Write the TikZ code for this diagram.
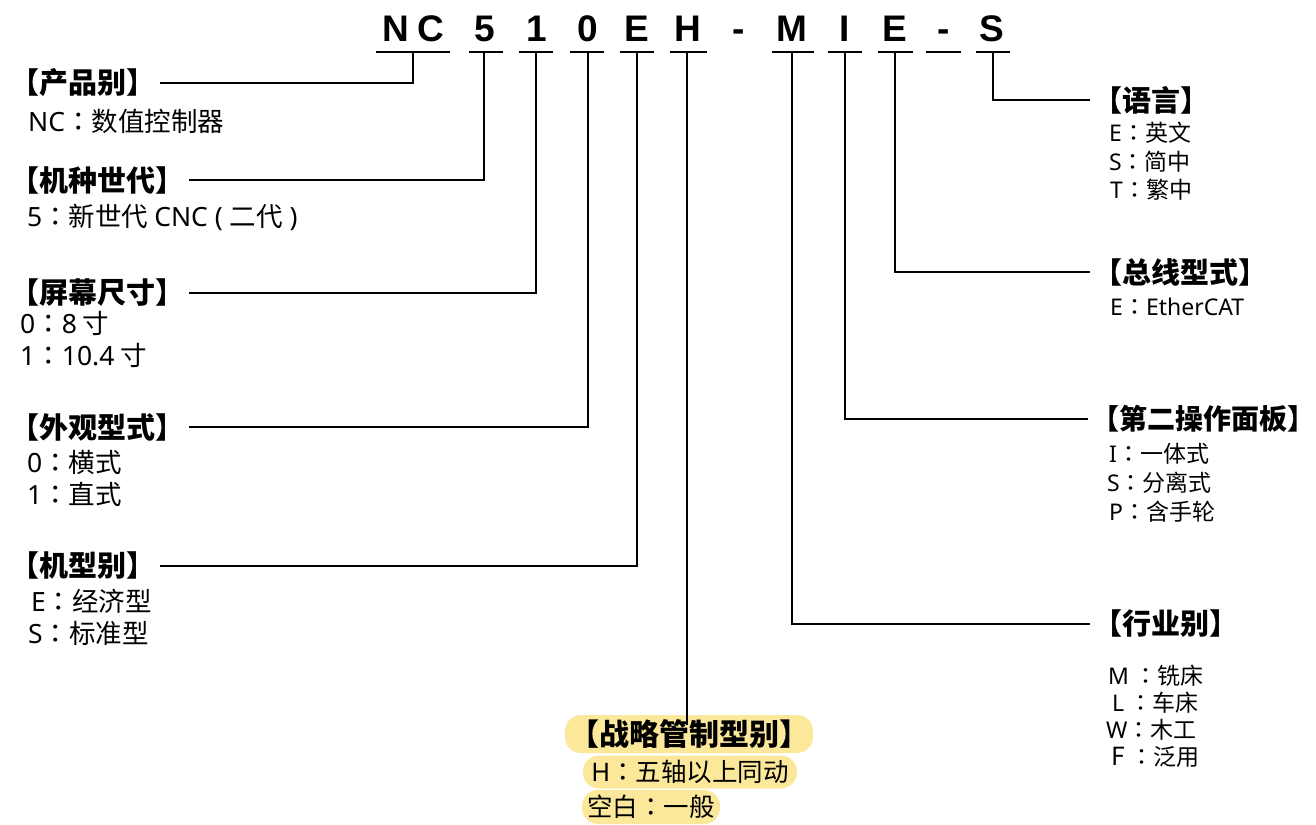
\documentclass[tikz,border=0pt]{standalone}
\usepackage{fontspec}
\setmainfont{Noto Sans CJK SC}
\newfontfamily\tcfont{Noto Sans CJK TC}
\newfontfamily\latfont{Noto Sans}
\newfontfamily\codefont{Liberation Sans}
\newcommand\colonTC{{\tcfont ：}}
\newcommand\la[1]{{\latfont #1}}
\definecolor{hl}{HTML}{FCE89A}
\begin{document}
\begin{tikzpicture}[x=1pt,y=-1pt,
  code/.style={font=\codefont\bfseries\fontsize{37}{40}\selectfont, inner sep=0, anchor=base},
  headL/.style={font=\bfseries\fontsize{29}{30}\selectfont, inner sep=0, outer sep=5pt, anchor=west},
  headR/.style={font=\bfseries\fontsize{29}{30}\selectfont, inner sep=0, outer sep=3pt, anchor=west},
  bodyL/.style={font=\fontsize{26.5}{28}\selectfont, inner sep=0, anchor=west},
  bodyR/.style={font=\fontsize{23}{26}\selectfont, inner sep=0, anchor=west},
  hlbox/.style={fill=hl, rounded corners=16pt, inner sep=0, anchor=center},
  uline/.style={line width=2.2pt},
  link/.style={line width=2.2pt}]
\useasboundingbox (0,0) rectangle (1316,824);

% code letters
\node[code] (cN)  at (396,42) {N};
\node[code] (cC)  at (431,42) {C};
\node[code] (c5)  at (485,42) {5};
\node[code] (c1)  at (537,42) {1};
\node[code] (c0)  at (588,42) {0};
\node[code] (cE)  at (637,42) {E};
\node[code] (cH)  at (688,42) {H};
\node[code] (cd1) at (739,42) {-};
\node[code] (cM)  at (792,42) {M};
\node[code] (cI)  at (845,42) {I};
\node[code] (cE2) at (895,42) {E};
\node[code] (cd2) at (944,42) {-};
\node[code] (cS)  at (992,42) {S};

% underlines
\draw[uline] (376,52) -- (450,52);
\draw[uline] (469,52) -- (503,52);
\draw[uline] (519,52) -- (553,52);
\draw[uline] (570,52) -- (604,52);
\draw[uline] (620,52) -- (654,52);
\draw[uline] (670,52) -- (707,52);
\draw[uline] (772,52) -- (814,52);
\draw[uline] (828,52) -- (862,52);
\draw[uline] (878,52) -- (913,52);
\draw[uline] (926,52) -- (961,52);
\draw[uline] (976,52) -- (1010,52);

\coordinate (uNC) at (413,52);
\coordinate (u5)  at (484,52);
\coordinate (u1)  at (536,52);
\coordinate (u0)  at (588,52);
\coordinate (uE)  at (637,52);
\coordinate (uH)  at (687,52);
\coordinate (uM)  at (792,52);
\coordinate (uI)  at (845,52);
\coordinate (uE2) at (895,52);
\coordinate (uS)  at (993,52);

% left headings
\node[headL] (hA) at (5,83)  {【产品别】};
\node[headL] (hB) at (5,180) {【机种世代】};
\node[headL] (hC) at (5,293) {【屏幕尺寸】};
\node[headL] (hD) at (5,427) {【外观型式】};
\node[headL] (hE) at (5,566) {【机型别】};

\node[bodyL] (bA1) at (28,121) {\la{NC}\colonTC 数值控制器};
\node[bodyL] (bB1) at (27,217) {\la{5}\colonTC 新世代 \la{CNC ( }二代\la{ )}};
\node[bodyL] (bC1) at (20,323) {\la{0}\colonTC \la{8} 寸};
\node[bodyL] (bC2) at (20,355) {\la{1}\colonTC \la{10.4} 寸};
\node[bodyL] (bD1) at (27,462) {\la{0}\colonTC 横式};
\node[bodyL] (bD2) at (27,494) {\la{1}\colonTC 直式};
\node[bodyL] (bE1) at (31,601) {\la{E}\colonTC 经济型};
\node[bodyL] (bE2) at (28,633) {\la{S}\colonTC 标准型};

% right headings
\node[headR] (hR1) at (1090,100) {【语言】};
\node[headR] (hR2) at (1090,272) {【总线型式】};
\node[headR, font=\bfseries\fontsize{28}{30}\selectfont] (hR3) at (1088,419) {【第二操作面板】};
\node[headR] (hR4) at (1090,624) {【行业别】};

\node[bodyR] (r11) at (1109,133) {\la{E}\colonTC 英文};
\node[bodyR] (r12) at (1109,162) {\la{S}\colonTC 简中};
\node[bodyR] (r13) at (1110,190) {\la{T}\colonTC 繁中};
\node[bodyR] (r21) at (1110,307) {\la{E}\colonTC \la{EtherCAT}};
\node[bodyR] (r31) at (1109,454) {\la{I}\colonTC 一体式};
\node[bodyR] (r32) at (1107,483) {\la{S}\colonTC 分离式};
\node[bodyR] (r33) at (1109,512) {\la{P}\colonTC 含手轮};
\node[bodyR] (r41) at (1108,676) {\la{M} \colonTC 铣床};
\node[bodyR] (r42) at (1112,703) {\la{L} \colonTC 车床};
\node[bodyR] (r43) at (1106,730) {\la{W}\colonTC 木工};
\node[bodyR] (r44) at (1111,757) {{\fontsize{25}{26}\selectfont F} \colonTC 泛用};

% bottom highlighted group
\node[hlbox, minimum width=248pt, minimum height=38pt, font=\bfseries\fontsize{30}{31}\selectfont] (hS) at (689,734) {【战略管制型别】};
\node[hlbox, minimum width=214pt, minimum height=33pt, font=\fontsize{25.5}{28}\selectfont] (s1) at (690,772) {\la{H}\colonTC 五轴以上同动};
\node[hlbox, minimum width=138pt, minimum height=34pt, font=\fontsize{25.5}{28}\selectfont] (s2) at (651,807) {空白\colonTC 一般};

% connectors
\draw[link] (uNC) |- (hA);
\draw[link] (u5)  |- (hB);
\draw[link] (u1)  |- (hC);
\draw[link] (u0)  |- (hD);
\draw[link] (uE)  |- (hE);
\draw[link] (uH)  -- ([yshift=-10pt]hS.north -| uH);
\draw[link] (uS)  |- (hR1);
\draw[link] (uE2) |- (hR2);
\draw[link] (uI)  |- (hR3);
\draw[link] (uM)  |- (hR4);
\end{tikzpicture}
\end{document}
